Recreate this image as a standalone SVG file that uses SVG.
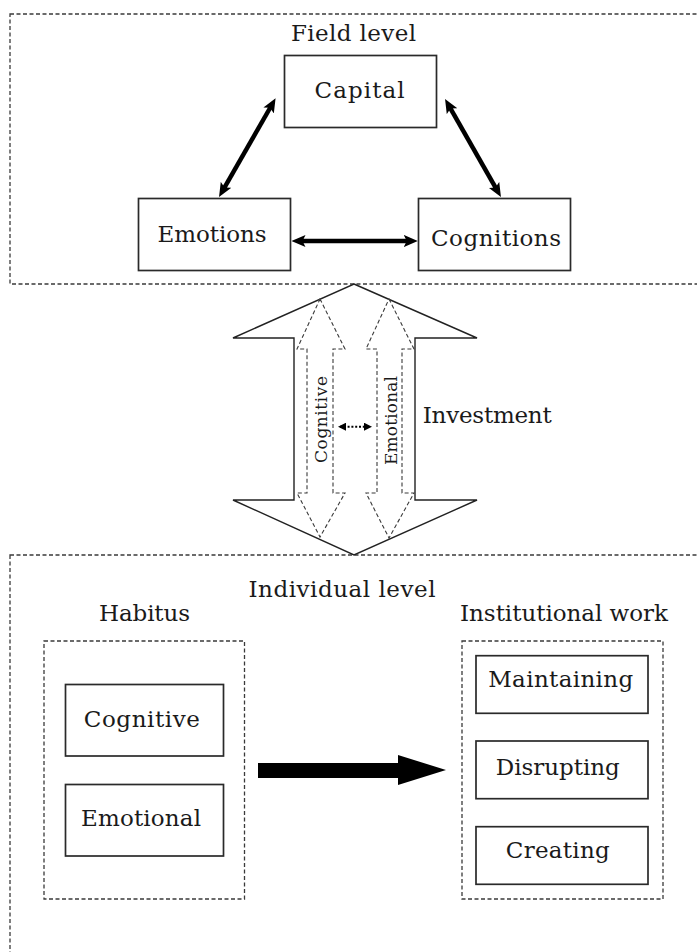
<svg xmlns="http://www.w3.org/2000/svg" width="697" height="952" viewBox="0 0 697 952">
<style>
text{font-family:"DejaVu Serif","Liberation Serif",serif;fill:#1a1a1a;font-size:23px}
.c{text-anchor:middle}
.v{font-size:17px;text-anchor:middle}
.node{fill:#fff;stroke:#2a2a2a;stroke-width:1.7}
.dash{fill:none;stroke:#3a3a3a;stroke-width:1.3;stroke-dasharray:4 2.5}
.idash{fill:#fff;stroke:#3a3a3a;stroke-width:1.1;stroke-dasharray:4 2.5}
.thick{stroke:#000;stroke-width:4.5;fill:none}
</style>
<defs>
<marker id="ah" viewBox="0 0 14 12" markerUnits="userSpaceOnUse" markerWidth="14" markerHeight="12" refX="4" refY="6" orient="auto-start-reverse">
<path d="M0,0 L14,6 L0,12 L3,6 Z" fill="#000"/>
</marker>
<marker id="sh" viewBox="0 0 8 8" markerUnits="userSpaceOnUse" markerWidth="8" markerHeight="8" refX="6" refY="4" orient="auto-start-reverse">
<path d="M0,0 L8,4 L0,8 Z" fill="#000"/>
</marker>
</defs>
<rect width="697" height="952" fill="#fff"/>

<g id="field-level">
<rect class="dash" x="10" y="14" width="700" height="270"/>
<text class="c" x="353.5" y="40.5" textLength="125">Field level</text>
</g>
<g id="individual-level">
<rect class="dash" x="10" y="555" width="700" height="420"/>
<text class="c" x="342" y="596.7" textLength="187">Individual level</text>
</g>

<g id="investment">
<polygon points="354,284 477,338 415,338 415,500 477,500 354,555 233,500 294,500 294,338 233,338" fill="#fff" stroke="#222" stroke-width="1.4"/>
<polygon class="idash" points="320,299 345,349 333,349 333,493 345,493 320,537 297,493 307,493 307,349 297,349"/>
<polygon class="idash" points="389,299 414,349 402,349 402,493 414,493 389,538 366,493 377,493 377,349 366,349"/>
<text class="v" transform="translate(327,419.5) rotate(-90)" textLength="87">Cognitive</text>
<text class="v" transform="translate(397,420.5) rotate(-90)" textLength="89">Emotional</text>
<text x="422.7" y="423" textLength="129">Investment</text>
</g>

<g id="capital">
<rect class="node" x="284.5" y="55.5" width="152" height="72"/>
<text class="c" x="359.6" y="98" textLength="90">Capital</text>
</g>
<g id="emotions">
<rect class="node" x="138.5" y="198.5" width="152" height="72"/>
<text class="c" x="212" y="242" textLength="109">Emotions</text>
</g>
<g id="cognitions">
<rect class="node" x="418.5" y="198.5" width="152" height="72"/>
<text class="c" x="496" y="246" textLength="130">Cognitions</text>
</g>

<g id="habitus">
<rect class="dash" x="44" y="641" width="200.5" height="258"/>
<text class="c" x="144.5" y="621" textLength="91">Habitus</text>
</g>
<g id="habitus-cognitive">
<rect class="node" x="65.5" y="684.5" width="158" height="71.5"/>
<text class="c" x="141.8" y="726.7" textLength="116">Cognitive</text>
</g>
<g id="habitus-emotional">
<rect class="node" x="65.5" y="784.5" width="158" height="71.5"/>
<text class="c" x="141" y="826" textLength="120">Emotional</text>
</g>

<g id="institutional-work">
<rect class="dash" x="462" y="641" width="201" height="258"/>
<text class="c" x="564" y="621" textLength="208">Institutional work</text>
</g>
<g id="maintaining">
<rect class="node" x="476" y="655.7" width="172" height="57.6"/>
<text class="c" x="560.7" y="686.7" textLength="145">Maintaining</text>
</g>
<g id="disrupting">
<rect class="node" x="476" y="741" width="172" height="57.7"/>
<text class="c" x="557.8" y="775" textLength="124">Disrupting</text>
</g>
<g id="creating">
<rect class="node" x="476" y="826.7" width="172" height="57.6"/>
<text class="c" x="557.8" y="858.3" textLength="104">Creating</text>
</g>

<g id="connectors">
<line class="thick" x1="270.6" y1="107" x2="224" y2="188.3" marker-start="url(#ah)" marker-end="url(#ah)"/>
<line class="thick" x1="450" y1="107.7" x2="496" y2="188.4" marker-start="url(#ah)" marker-end="url(#ah)"/>
<line class="thick" x1="301.5" y1="241" x2="407.8" y2="241" marker-start="url(#ah)" marker-end="url(#ah)"/>
<line x1="340" y1="426.7" x2="370" y2="426.7" stroke="#000" stroke-width="2" stroke-dasharray="2 1.8" marker-start="url(#sh)" marker-end="url(#sh)"/>
<polygon points="258,763 398,763 398,755 446,770 398,785 398,778 258,778" fill="#000"/>
</g>
</svg>
